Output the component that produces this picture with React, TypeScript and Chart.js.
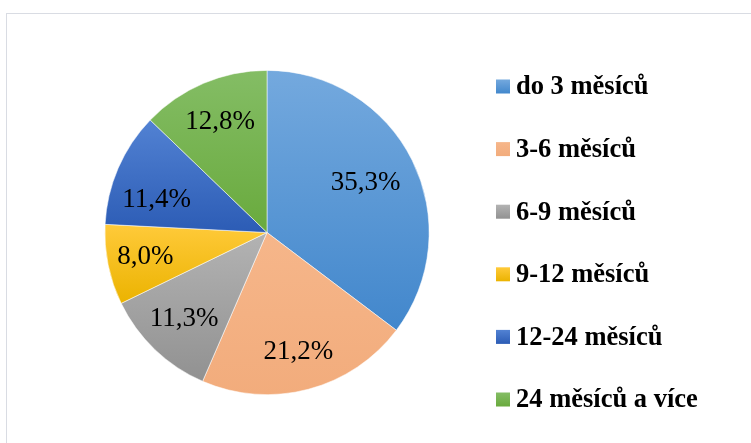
import React, { useEffect, useRef } from "react";
import { Chart, registerables } from "chart.js";

Chart.register(...registerables);

// ---- data ----
const categories = [
  "do 3 měsíců",
  "3-6 měsíců",
  "6-9 měsíců",
  "9-12 měsíců",
  "12-24 měsíců",
  "24 měsíců a více",
];
const shares = [35.3, 21.2, 11.3, 8.0, 11.4, 12.8];

// ---- styles ----
const gradientTop = ["#74A9DE", "#F6B68A", "#B3B3B3", "#FFCA3A", "#5282D3", "#84BD65"];
const gradientBottom = ["#4287CC", "#F2AC7C", "#919191", "#EBB300", "#2C5CB5", "#69AA3D"];
const legendColors = ["#5B9BD5", "#F4B183", "#A5A5A5", "#FFC000", "#4472C4", "#70AD47"];
const labelRadius = [0.68, 0.76, 0.74, 0.765, 0.71, 0.74];
const labelAngleShift = [0, 0, 0, 0, -7, 0];

const SERIF = "'Times New Roman', 'Liberation Serif', serif";

function sliceGeometry(chart: any, i: number) {
  const ca = chart.chartArea;
  const cx = (ca.left + ca.right) / 2;
  const cy = (ca.top + ca.bottom) / 2;
  const r = Math.min(ca.right - ca.left, ca.bottom - ca.top) / 2;
  const data: number[] = chart.data.datasets[0].data;
  const total = data.reduce((a, b) => a + b, 0);
  let before = 0;
  for (let k = 0; k < i; k++) before += data[k];
  const start = -Math.PI / 2 + (before / total) * Math.PI * 2;
  const end = start + (data[i] / total) * Math.PI * 2;
  return { cx, cy, r, start, end };
}

const overlayPlugin = {
  id: "overlay",
  afterDraw(chart: any) {
    const ctx = chart.ctx;
    const meta = chart.getDatasetMeta(0);
    ctx.save();
    // data labels
    ctx.fillStyle = "#000";
    ctx.font = `27px ${SERIF}`;
    ctx.textAlign = "center";
    ctx.textBaseline = "middle";
    meta.data.forEach((arc: any, i: number) => {
      const p = arc.getProps(["x", "y", "startAngle", "endAngle", "outerRadius"], true);
      const mid = (p.startAngle + p.endAngle) / 2 + (labelAngleShift[i] * Math.PI) / 180;
      const rr = p.outerRadius * labelRadius[i];
      const x = p.x + Math.cos(mid) * rr;
      const y = p.y + Math.sin(mid) * rr;
      const txt = shares[i].toFixed(1).replace(".", ",") + "%";
      ctx.fillText(txt, x, y);
    });
    // legend
    ctx.font = `bold 26.5px ${SERIF}`;
    ctx.textAlign = "left";
    ctx.textBaseline = "middle";
    const lx = 496;
    const y0 = 86.5;
    const step = 62.6;
    categories.forEach((name, i) => {
      const y = y0 + i * step;
      const g = ctx.createLinearGradient(0, y - 7, 0, y + 7);
      g.addColorStop(0, gradientTop[i]);
      g.addColorStop(1, gradientBottom[i]);
      ctx.fillStyle = g;
      ctx.fillRect(lx, y - 7, 14, 14);
      ctx.fillStyle = "#000";
      ctx.fillText(name, lx + 20, y + 1);
    });
    ctx.restore();
  },
};

export default function App() {
  const canvasRef = useRef<HTMLCanvasElement | null>(null);

  useEffect(() => {
    if (!canvasRef.current) return;
    const chart = new Chart(canvasRef.current, {
      type: "pie",
      data: {
        labels: categories,
        datasets: [
          {
            data: shares,
            backgroundColor: (c: any) => {
              const i = c.dataIndex;
              const chart = c.chart;
              if (!chart.chartArea || i === undefined) return legendColors[i ?? 0];
              const { cx, cy, r, start, end } = sliceGeometry(chart, i);
              let minY = cy;
              let maxY = cy;
              for (let k = 0; k <= 60; k++) {
                const a = start + ((end - start) * k) / 60;
                const py = cy + Math.sin(a) * r;
                minY = Math.min(minY, py);
                maxY = Math.max(maxY, py);
              }
              const g = chart.ctx.createLinearGradient(0, minY, 0, maxY);
              g.addColorStop(0, gradientTop[i]);
              g.addColorStop(1, gradientBottom[i]);
              return g;
            },
            borderColor: "rgba(255,255,255,0.7)",
            borderWidth: 0.75,
          },
        ],
      },
      options: {
        animation: false,
        responsive: false,
        maintainAspectRatio: false,
        layout: { padding: { left: 104, right: 321, top: 70, bottom: 48 } },
        plugins: {
          legend: { display: false },
          tooltip: { enabled: false },
        },
      },
      plugins: [overlayPlugin],
    });
    return () => chart.destroy();
  }, []);

  return (
    <div
      style={{
        position: "fixed",
        left: 0,
        top: 0,
        width: 751,
        height: 443,
        overflow: "hidden",
        background: "#fff",
      }}
    >
      <div
        style={{
          position: "absolute",
          left: 6,
          top: 13,
          width: 800,
          height: 500,
          border: "1px solid #D9DCE3",
          boxSizing: "border-box",
        }}
      />
      <canvas
        ref={canvasRef}
        width={751}
        height={443}
        style={{ position: "absolute", left: 0, top: 0, width: 751, height: 443 }}
      />
    </div>
  );
}
